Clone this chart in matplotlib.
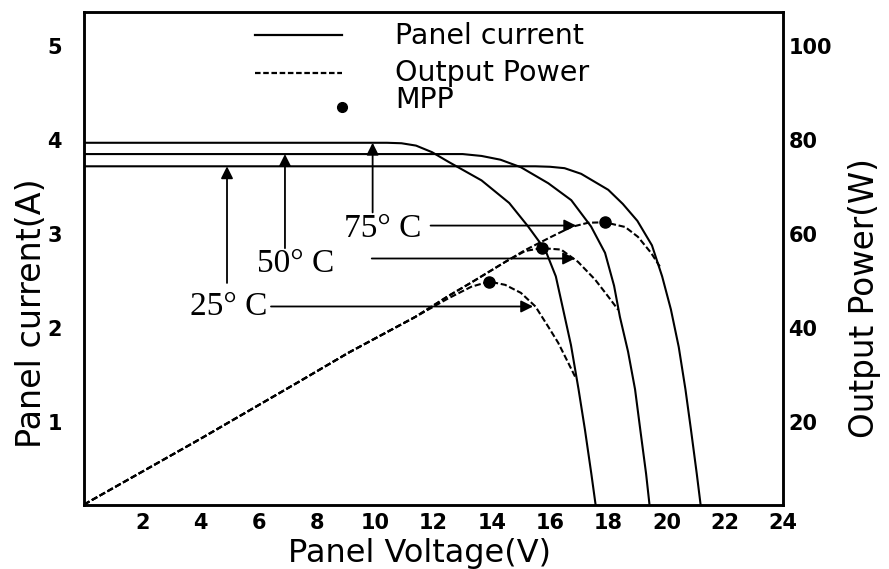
import matplotlib
matplotlib.use('Agg')
import matplotlib.pyplot as plt

# panel current curves (V, A)
v_25 = [0, 15.5, 16.0, 16.5, 17.07, 18.0, 18.5, 19.0, 19.5, 19.85, 20.15, 20.42, 20.65, 20.84, 21.04, 21.22]
i_25 = [3.72, 3.72, 3.715, 3.70, 3.64, 3.47, 3.32, 3.14, 2.88, 2.55, 2.20, 1.80, 1.35, 0.92, 0.45, 0.0]
v_50 = [0, 13.0, 13.65, 14.3, 15.0, 15.94, 16.73, 17.41, 17.89, 18.2, 18.4, 18.68, 18.92, 19.1, 19.3, 19.46]
i_50 = [3.85, 3.85, 3.83, 3.79, 3.71, 3.54, 3.36, 3.08, 2.80, 2.45, 2.12, 1.75, 1.35, 0.92, 0.45, 0.0]
v_75 = [0, 10.4, 10.9, 11.4, 11.95, 12.5, 13.65, 14.6, 15.25, 15.84, 16.2, 16.45, 16.72, 16.98, 17.2, 17.42, 17.62]
i_75 = [3.97, 3.97, 3.965, 3.94, 3.87, 3.77, 3.57, 3.33, 3.08, 2.83, 2.55, 2.20, 1.82, 1.35, 0.92, 0.45, 0.0]

# output power curves (V, W)
pv_25 = [0, 3.95, 7.38, 9.09, 11.38, 12.5, 13.3, 13.91, 14.46, 15.0, 15.5, 15.94, 16.28, 16.62, 16.86]
p_25 = [2.5, 16.3, 28.6, 34.8, 42.4, 46.3, 48.8, 49.9, 49.2, 47.5, 44.6, 40.3, 36.9, 32.7, 29.7]
pv_50 = [0, 3.95, 7.38, 9.09, 11.38, 12.5, 13.3, 14.47, 15.15, 15.71, 16.38, 16.96, 17.55, 18.0, 18.34]
p_50 = [2.5, 16.3, 28.6, 34.8, 42.4, 46.8, 49.7, 54.1, 56.4, 57.0, 56.7, 54.1, 50.3, 46.7, 43.9]
pv_75 = [0, 3.95, 7.38, 9.09, 11.38, 12.5, 13.3, 14.47, 15.15, 16.04, 16.73, 17.31, 17.88, 18.58, 19.02, 19.47, 19.77]
p_75 = [2.5, 16.3, 28.6, 34.8, 42.4, 46.8, 49.7, 54.1, 56.6, 59.4, 61.5, 62.4, 62.5, 61.5, 59.4, 56.0, 53.1]

# maximum power points
mpp_v = [13.91, 15.71, 17.88]
mpp_p = [49.9, 57.0, 62.5]

temp_labels = ['25° C', '50° C', '75° C']

fig = plt.figure(figsize=(8.89, 5.69), dpi=100)
ax = fig.add_axes([84/889, 64/569, 699/889, 493/569])
ax2 = ax.twinx()

dash = (0, (3, 1.3))
for v, i in [(v_25, i_25), (v_50, i_50), (v_75, i_75)]:
    ax.plot(v, i, 'k-', lw=1.5)
for v, p in [(pv_25, p_25), (pv_50, p_50), (pv_75, p_75)]:
    ax2.plot(v, p, color='k', ls=dash, lw=1.5)
ax2.plot(mpp_v, mpp_p, 'ko', ms=8)

ax.set_xlim(0, 24)
ax.set_ylim(0.12, 5.36)
ax2.set_ylim(2.4, 107.2)
ax.set_xticks(range(2, 25, 2))
ax.set_yticks([1, 2, 3, 4, 5])
ax2.set_yticks([20, 40, 60, 80, 100])

for lab in ax.get_xticklabels() + ax.get_yticklabels() + ax2.get_yticklabels():
    lab.set_fontfamily('DejaVu Sans')
    lab.set_fontsize(15)
    lab.set_fontweight('bold')
ax.tick_params(axis='x', length=0, pad=6)
ax.tick_params(axis='y', length=0, pad=16)
ax2.tick_params(axis='y', length=0, pad=4)
for a in (ax, ax2):
    for s in a.spines.values():
        s.set_linewidth(1.8)

ax.set_xlabel('Panel Voltage(V)', fontsize=23)
ax.xaxis.set_label_coords(0.48, -0.066)
ax.set_ylabel('Panel current(A)', fontsize=24)
ax.yaxis.set_label_coords(-0.052, 0.39)
ax2.set_ylabel('Output Power(W)', fontsize=23.5)
ax2.yaxis.set_label_coords(1.093, 0.42)

# temperature annotations
arrow = dict(arrowstyle='-|>', color='k', lw=1.3, mutation_scale=18, shrinkA=0, shrinkB=0)
# vertical arrows to the current curves
ax.annotate('', xy=(4.91, 3.72), xytext=(4.91, 2.48), arrowprops=arrow)
ax.annotate('', xy=(6.9, 3.85), xytext=(6.9, 2.85), arrowprops=arrow)
ax.annotate('', xy=(9.91, 3.97), xytext=(9.91, 3.23), arrowprops=arrow)
# horizontal arrows to the power curves
ax.annotate('', xy=(15.42, 2.23), xytext=(6.42, 2.23), arrowprops=arrow)
ax.annotate('', xy=(16.86, 2.74), xytext=(9.88, 2.74), arrowprops=arrow)
ax.annotate('', xy=(16.9, 3.09), xytext=(11.9, 3.09), arrowprops=arrow)

serif = dict(family='Liberation Serif', size=24, va='center', ha='right')
ax.text(6.3, 2.23, temp_labels[0], **serif)
ax.text(8.6, 2.68, temp_labels[1], **serif)
ax.text(11.6, 3.06, temp_labels[2], **serif)

# hand drawn legend
ax.plot([0.245, 0.369], [0.953, 0.953], 'k-', lw=1.6, transform=ax.transAxes)
ax.plot([0.245, 0.369], [0.876, 0.876], color='k', ls=(0, (2.5, 1.2)), lw=1.6, transform=ax.transAxes)
ax.plot([0.369], [0.807], 'ko', ms=7, transform=ax.transAxes)
leg = dict(fontsize=20.5, va='center', ha='left', transform=ax.transAxes)
ax.text(0.445, 0.951, 'Panel current', **leg)
ax.text(0.445, 0.876, 'Output Power', **leg)
ax.text(0.445, 0.821, 'MPP', **leg)

fig.savefig('out.png', dpi=100)
